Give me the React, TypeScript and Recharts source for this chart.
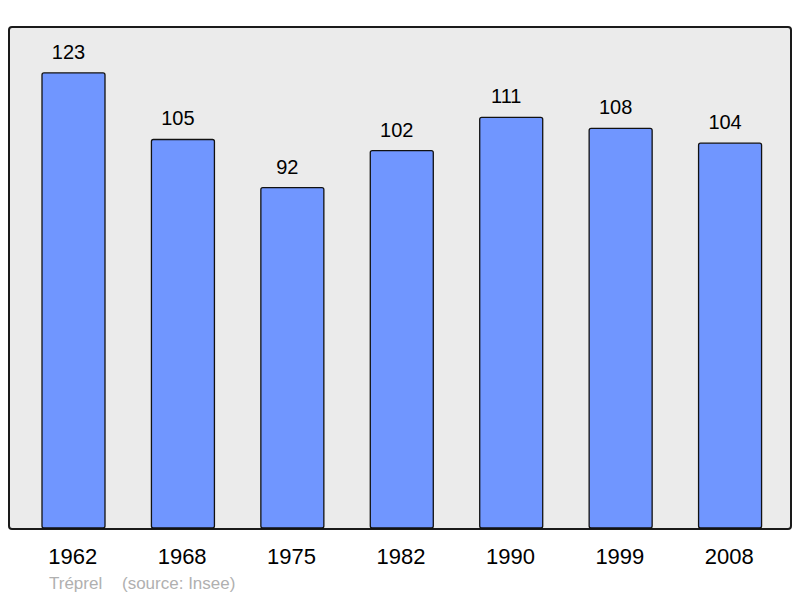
import { BarChart, Bar, XAxis, YAxis, LabelList } from 'recharts';

const years = ['1962', '1968', '1975', '1982', '1990', '1999', '2008'];
const population = [123, 105, 92, 102, 111, 108, 104];
const yDomainMax = 135.4;

const commune = 'Tréprel';
const source = '(source: Insee)';

const data = years.map((year, i) => ({ year, value: population[i] }));

const FONT = '"Liberation Sans", Arial, sans-serif';

const YearTick = ({ x, y, payload }: any) => (
  <text x={x - 1} y={y + 36} textAnchor="middle" fontSize={22} fontFamily={FONT} fill="#000">
    {payload.value}
  </text>
);

export default function App() {
  return (
    <div style={{ position: 'absolute', left: 0, top: 0, width: 800, height: 598, background: '#fff' }}>
      <div
        style={{
          position: 'absolute',
          left: 8,
          top: 26,
          width: 784,
          height: 504,
          boxSizing: 'border-box',
          border: '2px solid #1a1a1a',
          borderRadius: 4,
          background: '#ebebeb',
        }}
      />
      <div style={{ position: 'absolute', left: 0, top: 0 }}>
        <BarChart
          width={800}
          height={598}
          data={data}
          margin={{ top: 27, right: 15, left: 19, bottom: 0 }}
        >
          <XAxis
            dataKey="year"
            height={70}
            axisLine={false}
            tickLine={false}
            tickSize={0}
            tickMargin={0}
            interval={0}
            tick={<YearTick />}
          />
          <YAxis hide domain={[0, yDomainMax]} />
          <Bar
            dataKey="value"
            barSize={63}
            fill="#7096ff"
            stroke="#111"
            strokeWidth={1.3}
            radius={2}
            isAnimationActive={false}
          >
            <LabelList
              dataKey="value"
              position="top"
              offset={14}
              dx={-5}
              fontSize={20}
              fontFamily={FONT}
              fill="#000"
            />
          </Bar>
        </BarChart>
      </div>
      <svg width={800} height={598} style={{ position: 'absolute', left: 0, top: 0, pointerEvents: 'none' }}>
        <text x={49} y={589} fontSize={17} fontFamily={FONT} fill="#b0b0b0">
          {commune}
        </text>
        <text x={122} y={589} fontSize={17} fontFamily={FONT} fill="#b0b0b0">
          {source}
        </text>
      </svg>
    </div>
  );
}
